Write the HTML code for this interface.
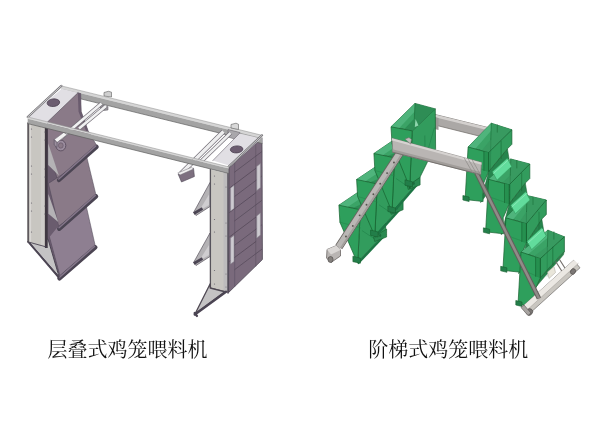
<!DOCTYPE html>
<html><head><meta charset="utf-8"><title>鸡笼喂料机</title>
<style>
html,body{margin:0;padding:0;background:#fff;}
body{width:600px;height:428px;position:relative;overflow:hidden;font-family:"Liberation Serif","Noto Serif CJK SC",serif;}
svg{position:absolute;left:0;top:0;}
.cap{position:absolute;top:335.5px;font-size:20px;line-height:28px;color:#111;white-space:nowrap;letter-spacing:0;filter:blur(0.35px);}
</style></head><body>
<svg width="600" height="428" viewBox="0 0 600 428">
<defs><filter id="bl" x="-5%" y="-5%" width="110%" height="110%"><feGaussianBlur stdDeviation="0.6"/></filter></defs>
<g filter="url(#bl)">
<polygon points="229.0,168.0 262.0,137.5 262.4,259.5 228.6,292.5" fill="#7a6b7c" stroke="#4b4452" stroke-width="0.8" stroke-linejoin="round"/>
<polyline points="234.7,163.0 234.7,286.5" fill="none" stroke="#5d4f61" stroke-width="0.6" stroke-linecap="round" stroke-linejoin="round"/>
<polyline points="255.8,143.5 255.8,266.0" fill="none" stroke="#5d4f61" stroke-width="0.6" stroke-linecap="round" stroke-linejoin="round"/>
<polyline points="234.7,172.0 261.6,151.8" fill="none" stroke="#554759" stroke-width="0.7" stroke-linecap="round" stroke-linejoin="round"/>
<polyline points="229.6,188.0 255.8,168.4" fill="none" stroke="#554759" stroke-width="0.8" stroke-linecap="round" stroke-linejoin="round"/>
<polyline points="234.7,196.4 261.6,176.2" fill="none" stroke="#554759" stroke-width="0.7" stroke-linecap="round" stroke-linejoin="round"/>
<polyline points="229.6,212.4 255.8,192.8" fill="none" stroke="#554759" stroke-width="0.8" stroke-linecap="round" stroke-linejoin="round"/>
<polyline points="234.7,220.8 261.6,200.6" fill="none" stroke="#554759" stroke-width="0.7" stroke-linecap="round" stroke-linejoin="round"/>
<polyline points="229.6,236.8 255.8,217.2" fill="none" stroke="#554759" stroke-width="0.8" stroke-linecap="round" stroke-linejoin="round"/>
<polyline points="234.7,245.2 261.6,225.0" fill="none" stroke="#554759" stroke-width="0.7" stroke-linecap="round" stroke-linejoin="round"/>
<polyline points="229.6,261.2 255.8,241.6" fill="none" stroke="#554759" stroke-width="0.8" stroke-linecap="round" stroke-linejoin="round"/>
<polyline points="234.7,269.6 261.6,249.4" fill="none" stroke="#554759" stroke-width="0.7" stroke-linecap="round" stroke-linejoin="round"/>
<polygon points="230.6,188.0 234.0,185.5 234.0,208.5 230.6,211.0" fill="#cdcad0" stroke="#8b8790" stroke-width="0.5" stroke-linejoin="round"/>
<polygon points="230.6,238.0 234.0,235.5 234.0,261.5 230.6,264.0" fill="#cdcad0" stroke="#8b8790" stroke-width="0.5" stroke-linejoin="round"/>
<polygon points="256.8,166.5 260.4,163.5 260.4,187.5 256.8,190.5" fill="#cdcad0" stroke="#8b8790" stroke-width="0.5" stroke-linejoin="round"/>
<polygon points="256.8,216.0 260.4,213.0 260.4,235.0 256.8,238.0" fill="#cdcad0" stroke="#8b8790" stroke-width="0.5" stroke-linejoin="round"/>
<polygon points="104.0,92.5 108.5,91.3 111.5,92.2 111.5,97.0 104.0,96.0" fill="#cfcfcf" stroke="#5e5e5e" stroke-width="0.6" stroke-linejoin="round"/>
<polygon points="61.4,85.9 262.0,135.3 262.0,137.9 61.4,88.5" fill="#d6d6d6"/>
<polygon points="61.4,88.5 262.0,137.9 262.0,143.5 61.4,94.1" fill="#a3a3a3"/>
<polyline points="61.4,85.9 262.0,135.3" fill="none" stroke="#8a8a8a" stroke-width="0.5" stroke-linecap="round" stroke-linejoin="round"/>
<polyline points="61.4,94.1 262.0,143.5" fill="none" stroke="#5e5e5e" stroke-width="0.7" stroke-linecap="round" stroke-linejoin="round"/>
<polygon points="100.0,104.5 108.0,106.5 108.0,110.0 104.0,110.5 100.0,108.0" fill="#9a979c" stroke="#5e5a62" stroke-width="0.5" stroke-linejoin="round"/>
<polygon points="231.0,124.5 236.0,123.2 238.5,124.3 238.5,129.5 231.0,128.0" fill="#d9d9d9" stroke="#5e5e5e" stroke-width="0.6" stroke-linejoin="round"/>
<polygon points="228.0,129.5 240.0,132.5 240.0,138.0 236.0,139.5 228.0,137.0" fill="#a9a7ab" stroke="#5e5a62" stroke-width="0.5" stroke-linejoin="round"/>
<polygon points="46.0,126.0 50.0,122.0 58.0,181.0 59.0,228.0 60.0,277.0 46.0,247.0" fill="#6a5b6e"/>
<polygon points="47.5,122.0 77.5,92.7 80.7,93.6 81.2,111.5 88.2,131.0 97.6,147.0 58.0,180.5 47.5,150.0" fill="#8a7a88" stroke="#4b4452" stroke-width="0.5" stroke-linejoin="round"/>
<polygon points="77.8,92.8 80.7,93.6 81.2,111.5 88.2,131.0 86.0,131.0 78.5,111.5" fill="#6a5b6e"/>
<polygon points="48.4,183.5 72.0,168.0 86.5,156.0 96.1,195.4 58.9,227.0" fill="#8a7a88" stroke="#4b4452" stroke-width="0.5" stroke-linejoin="round"/>
<polygon points="48.4,233.0 72.0,217.0 86.0,205.0 95.3,246.0 60.0,276.0" fill="#8e7f91" stroke="#4b4452" stroke-width="0.5" stroke-linejoin="round"/>
<polygon points="48.2,143.5 58.9,175.5 48.2,165.0" fill="#b4b2b5"/>
<polygon points="47.0,185.0 58.5,226.0 47.0,240.0" fill="#6a5b6e"/>
<polygon points="48.4,194.0 58.2,222.0 48.4,213.7" fill="#b4b2b5"/>
<polygon points="47.0,235.0 59.3,274.0 50.0,240.0" fill="#6a5b6e"/>
<polyline points="59.0,180.0 96.6,146.8" fill="none" stroke="#4b4452" stroke-width="4.3" stroke-linecap="round" stroke-linejoin="round"/>
<polyline points="58.8,179.0 95.8,145.9" fill="none" stroke="#84768a" stroke-width="1.5" stroke-linecap="round" stroke-linejoin="round"/>
<polyline points="59.2,228.8 96.1,196.3" fill="none" stroke="#4b4452" stroke-width="4.3" stroke-linecap="round" stroke-linejoin="round"/>
<polyline points="59.0,227.8 95.3,195.4" fill="none" stroke="#84768a" stroke-width="1.5" stroke-linecap="round" stroke-linejoin="round"/>
<polyline points="59.5,278.4 95.3,247.3" fill="none" stroke="#4b4452" stroke-width="4.3" stroke-linecap="round" stroke-linejoin="round"/>
<polyline points="59.3,277.4 94.5,246.4" fill="none" stroke="#84768a" stroke-width="1.5" stroke-linecap="round" stroke-linejoin="round"/>
<polygon points="28.5,241.5 48.0,239.0 59.0,276.5" fill="#c4c3c4" stroke="#4b4452" stroke-width="1.0" stroke-linejoin="round"/>
<polyline points="28.3,241.8 58.6,277.3" fill="none" stroke="#4b4452" stroke-width="1.8" stroke-linecap="round" stroke-linejoin="round"/>
<polygon points="27.7,123.0 46.5,127.5 46.5,247.0 27.7,241.8" fill="#c8c6c1"/>
<polyline points="28.2,123.0 28.2,241.8" fill="none" stroke="#5f5a5e" stroke-width="1.8" stroke-linecap="round" stroke-linejoin="round"/>
<polyline points="30.4,124.0 30.4,241.0" fill="none" stroke="#d9d7d4" stroke-width="1.4" stroke-linecap="round" stroke-linejoin="round"/>
<polyline points="42.5,127.0 42.5,246.0" fill="none" stroke="#cfcdca" stroke-width="3.0" stroke-linecap="round" stroke-linejoin="round"/>
<polyline points="46.3,127.0 46.3,248.0" fill="none" stroke="#3f3842" stroke-width="2.8" stroke-linecap="butt" stroke-linejoin="round"/>
<polyline points="27.7,241.8 46.5,247.0" fill="none" stroke="#4b4452" stroke-width="0.9" stroke-linecap="round" stroke-linejoin="round"/>
<ellipse cx="31.5" cy="129" rx="0.6" ry="0.6" fill="#6a6670"/>
<ellipse cx="31.5" cy="137" rx="0.6" ry="0.6" fill="#6a6670"/>
<ellipse cx="31.5" cy="166" rx="0.6" ry="0.6" fill="#6a6670"/>
<ellipse cx="31.5" cy="174" rx="0.6" ry="0.6" fill="#6a6670"/>
<ellipse cx="31.5" cy="203" rx="0.6" ry="0.6" fill="#6a6670"/>
<ellipse cx="31.5" cy="211" rx="0.6" ry="0.6" fill="#6a6670"/>
<ellipse cx="31.5" cy="232" rx="0.6" ry="0.6" fill="#6a6670"/>
<ellipse cx="44.8" cy="132" rx="0.5" ry="0.5" fill="#6a6670"/>
<ellipse cx="44.8" cy="140" rx="0.5" ry="0.5" fill="#6a6670"/>
<ellipse cx="44.8" cy="169" rx="0.5" ry="0.5" fill="#6a6670"/>
<ellipse cx="44.8" cy="177" rx="0.5" ry="0.5" fill="#6a6670"/>
<ellipse cx="44.8" cy="206" rx="0.5" ry="0.5" fill="#6a6670"/>
<ellipse cx="44.8" cy="214" rx="0.5" ry="0.5" fill="#6a6670"/>
<polyline points="101.5,103.5 57.5,141.0" fill="none" stroke="#6f6a73" stroke-width="4.0" stroke-linecap="butt" stroke-linejoin="round"/>
<polyline points="101.5,103.5 57.5,141.0" fill="none" stroke="#f1f1f2" stroke-width="2.7" stroke-linecap="butt" stroke-linejoin="round"/>
<polyline points="106.0,106.0 79.0,128.5" fill="none" stroke="#6f6a73" stroke-width="4.0" stroke-linecap="butt" stroke-linejoin="round"/>
<polyline points="106.0,106.0 79.0,128.5" fill="none" stroke="#f1f1f2" stroke-width="2.7" stroke-linecap="butt" stroke-linejoin="round"/>
<ellipse cx="60.8" cy="145.5" rx="5.0" ry="5.4" fill="#9a8c9d" stroke="#5a4d5e" stroke-width="0.9"/>
<ellipse cx="60.8" cy="145.5" rx="2.4" ry="2.7" fill="#8a7a88" stroke="#5a4d5e" stroke-width="0.5"/>
<polygon points="54.2,139.6 64.0,132.2 66.8,134.8 57.0,142.6" fill="#f3f3f3" stroke="#6f6a73" stroke-width="0.6" stroke-linejoin="round"/>
<polygon points="54.2,139.6 57.0,142.6 57.0,147.5 54.2,145.0" fill="#9b8e9e" stroke="#4b4452" stroke-width="0.5" stroke-linejoin="round"/>
<polygon points="210.2,169.5 227.3,173.5 227.3,292.0 210.2,288.0" fill="#c8c6c1"/>
<polygon points="223.5,172.5 227.3,173.5 227.3,292.0 223.5,291.0" fill="#bdbcbd"/>
<polyline points="210.4,169.5 210.4,288.0" fill="none" stroke="#57525a" stroke-width="1.3" stroke-linecap="round" stroke-linejoin="round"/>
<polyline points="228.0,169.0 228.0,293.0" fill="none" stroke="#4b4452" stroke-width="1.5" stroke-linecap="round" stroke-linejoin="round"/>
<polyline points="210.2,288.0 227.3,292.0" fill="none" stroke="#4b4452" stroke-width="0.9" stroke-linecap="round" stroke-linejoin="round"/>
<ellipse cx="214.5" cy="176" rx="0.6" ry="0.6" fill="#6a6670"/>
<ellipse cx="214.5" cy="184" rx="0.6" ry="0.6" fill="#6a6670"/>
<ellipse cx="214.5" cy="219.5" rx="0.6" ry="0.6" fill="#6a6670"/>
<ellipse cx="214.5" cy="232" rx="0.6" ry="0.6" fill="#6a6670"/>
<ellipse cx="214.5" cy="270.5" rx="0.6" ry="0.6" fill="#6a6670"/>
<ellipse cx="214.5" cy="284" rx="0.6" ry="0.6" fill="#6a6670"/>
<ellipse cx="226" cy="187" rx="0.5" ry="0.5" fill="#6a6670"/>
<ellipse cx="226" cy="223" rx="0.5" ry="0.5" fill="#6a6670"/>
<ellipse cx="226" cy="236" rx="0.5" ry="0.5" fill="#6a6670"/>
<ellipse cx="226" cy="274" rx="0.5" ry="0.5" fill="#6a6670"/>
<ellipse cx="226" cy="287" rx="0.5" ry="0.5" fill="#6a6670"/>
<polygon points="210.0,182.5 210.0,206.5 196.0,215.5 193.6,212.5" fill="#b4b2b5" stroke="#5a545e" stroke-width="0.7" stroke-linejoin="round"/>
<polygon points="209.0,194.5 209.0,205.0 199.0,211.0" fill="#cfcdd0"/>
<polyline points="193.8,213.5 202.5,208.5" fill="none" stroke="#4b4452" stroke-width="2.6" stroke-linecap="butt" stroke-linejoin="round"/>
<polygon points="210.0,233.0 210.0,256.5 196.0,265.5 193.6,262.5" fill="#b4b2b5" stroke="#5a545e" stroke-width="0.7" stroke-linejoin="round"/>
<polygon points="209.0,245.0 209.0,255.0 199.0,261.0" fill="#cfcdd0"/>
<polyline points="193.8,263.5 202.5,258.5" fill="none" stroke="#4b4452" stroke-width="2.6" stroke-linecap="butt" stroke-linejoin="round"/>
<polygon points="210.2,283.8 210.2,288.0 225.0,291.8 195.0,314.0" fill="#c4c3c4" stroke="#4f4953" stroke-width="1.3" stroke-linejoin="round"/>
<polyline points="194.8,314.5 226.0,291.8" fill="none" stroke="#4b4452" stroke-width="2.5" stroke-linecap="round" stroke-linejoin="round"/>
<polyline points="194.6,313.0 197.0,316.0" fill="none" stroke="#4b4452" stroke-width="2.2" stroke-linecap="round" stroke-linejoin="round"/>
<polygon points="27.7,117.0 61.9,88.7 78.0,92.8 47.5,122.0" fill="#e1dfe4"/>
<polyline points="78.0,92.8 47.5,122.0" fill="none" stroke="#5e5662" stroke-width="0.7" stroke-linecap="round" stroke-linejoin="round"/>
<ellipse cx="53.4" cy="102.7" rx="6.3" ry="3.8" fill="#6c5d70" stroke="#4d4252" stroke-width="0.8" transform="rotate(-6 53.4 102.7)"/>
<polygon points="212.8,160.6 239.5,133.4 261.0,138.6 230.5,166.0" fill="#e1dfe4"/>
<polyline points="239.5,133.4 212.8,160.6" fill="none" stroke="#6b6570" stroke-width="0.6" stroke-linecap="round" stroke-linejoin="round"/>
<ellipse cx="236.6" cy="149.4" rx="6.3" ry="3.5" fill="#6c5d70" stroke="#4d4252" stroke-width="0.8" transform="rotate(-4 236.6 149.4)"/>
<polyline points="223.5,131.5 181.0,173.5" fill="none" stroke="#6f6a73" stroke-width="4.7" stroke-linecap="butt" stroke-linejoin="round"/>
<polyline points="223.5,131.5 181.0,173.5" fill="none" stroke="#eeeeef" stroke-width="3.4" stroke-linecap="butt" stroke-linejoin="round"/>
<polyline points="230.5,133.0 199.0,163.5" fill="none" stroke="#6f6a73" stroke-width="3.9000000000000004" stroke-linecap="butt" stroke-linejoin="round"/>
<polyline points="230.5,133.0 199.0,163.5" fill="none" stroke="#eeeeef" stroke-width="2.6" stroke-linecap="butt" stroke-linejoin="round"/>
<polygon points="178.2,174.2 193.5,168.2 194.4,176.5 181.5,182.0" fill="#7d7080" stroke="#4b4452" stroke-width="0.6" stroke-linejoin="round"/>
<polygon points="177.8,173.0 191.5,167.3 193.6,169.0 180.0,175.0" fill="#f0f0f0" stroke="#6f6a73" stroke-width="0.5" stroke-linejoin="round"/>
<polyline points="27.7,117.0 61.4,85.9" fill="none" stroke="#77757a" stroke-width="2.2" stroke-linecap="round" stroke-linejoin="round"/>
<polyline points="27.7,117.0 61.4,85.9" fill="none" stroke="#d8d8d8" stroke-width="0.9" stroke-linecap="round" stroke-linejoin="round"/>
<polyline points="228.5,166.8 262.0,135.3" fill="none" stroke="#77757a" stroke-width="2.2" stroke-linecap="round" stroke-linejoin="round"/>
<polyline points="228.5,166.8 262.0,135.3" fill="none" stroke="#d0d0d0" stroke-width="0.9" stroke-linecap="round" stroke-linejoin="round"/>
<polygon points="27.7,117.0 228.5,166.8 228.5,168.6 27.7,118.8" fill="#d6d6d6"/>
<polygon points="27.7,118.8 228.5,168.6 228.5,173.4 27.7,123.6" fill="#a3a3a3"/>
<polyline points="27.7,117.0 228.5,166.8" fill="none" stroke="#8a8a8a" stroke-width="0.5" stroke-linecap="round" stroke-linejoin="round"/>
<polyline points="27.7,123.6 228.5,173.4" fill="none" stroke="#5e5e5e" stroke-width="0.7" stroke-linecap="round" stroke-linejoin="round"/>
</g>
<g filter="url(#bl)">
<polygon points="435.0,114.5 491.0,128.3 491.0,139.0 435.0,125.0" fill="#aba8a6" stroke="#76726f" stroke-width="0.8" stroke-linejoin="round"/>
<polygon points="435.0,114.5 491.0,128.3 491.0,131.0 435.0,117.2" fill="#d3d0ce"/>
<polygon points="434.5,117.0 438.5,118.0 438.5,130.0 434.5,129.0" fill="#9c9896"/>
<polygon points="360.3,209.8 385.0,187.3 385.7,232.5 357.8,262.0" fill="#319c5d" stroke="#17602f" stroke-width="0.7" stroke-linejoin="round"/>
<polyline points="373.6,214.6 374.1,238.6" fill="none" stroke="#1f7a45" stroke-width="0.6" stroke-linecap="round" stroke-linejoin="round"/>
<polyline points="362.3,230.8 374.1,238.6" fill="none" stroke="#1f7a45" stroke-width="0.5" stroke-linecap="round" stroke-linejoin="round"/>
<polyline points="384.0,206.3 374.1,238.6" fill="none" stroke="#1f7a45" stroke-width="0.5" stroke-linecap="round" stroke-linejoin="round"/>
<polyline points="357.8,263.5 385.7,234.0" fill="none" stroke="#1f7544" stroke-width="2.4" stroke-linecap="butt" stroke-linejoin="round"/>
<polygon points="373.7,237.0 386.6,229.0 386.6,237.0 374.7,241.5" fill="#2a8a51" stroke="#17602f" stroke-width="0.6" stroke-linejoin="round"/>
<ellipse cx="380.2" cy="235.5" rx="1.1" ry="1.4" fill="#1d6a3d"/>
<polygon points="338.9,205.2 364.0,188.2 385.0,187.3 360.3,209.8" fill="#3aa366" stroke="#17602f" stroke-width="0.7" stroke-linejoin="round"/>
<polygon points="338.9,205.2 364.0,188.2 363.7,196.2 345.4,208.4" fill="#4fb47c"/>
<polygon points="364.0,188.2 385.0,187.3 360.3,209.8 352.3,208.2 363.3,203.2" fill="#2d8d55"/>
<polyline points="364.0,188.2 363.3,203.2" fill="none" stroke="#17602f" stroke-width="0.5" stroke-linecap="round" stroke-linejoin="round"/>
<polygon points="338.9,205.2 360.3,209.8 357.8,262.0 355.4,258.2 339.9,222.2" fill="#2f9f5b" stroke="#17602f" stroke-width="0.7" stroke-linejoin="round"/>
<polyline points="339.9,222.2 360.3,227.8" fill="none" stroke="#25804b" stroke-width="0.5" stroke-linecap="round" stroke-linejoin="round"/>
<polygon points="352.9,256.2 360.4,258.2 360.4,263.2 352.9,261.7" fill="#247e4a" stroke="#17602f" stroke-width="0.6" stroke-linejoin="round"/>
<polygon points="377.3,184.0 401.5,161.5 402.2,205.3 374.8,235.5" fill="#319c5d" stroke="#17602f" stroke-width="0.7" stroke-linejoin="round"/>
<polyline points="390.4,188.8 390.9,212.8" fill="none" stroke="#1f7a45" stroke-width="0.6" stroke-linecap="round" stroke-linejoin="round"/>
<polyline points="379.3,205.0 390.9,212.8" fill="none" stroke="#1f7a45" stroke-width="0.5" stroke-linecap="round" stroke-linejoin="round"/>
<polyline points="400.5,180.5 390.9,212.8" fill="none" stroke="#1f7a45" stroke-width="0.5" stroke-linecap="round" stroke-linejoin="round"/>
<polyline points="374.8,237.0 402.2,206.8" fill="none" stroke="#1f7544" stroke-width="2.4" stroke-linecap="butt" stroke-linejoin="round"/>
<polygon points="390.2,209.8 403.1,201.8 403.1,209.8 391.2,214.3" fill="#2a8a51" stroke="#17602f" stroke-width="0.6" stroke-linejoin="round"/>
<ellipse cx="396.7" cy="208.3" rx="1.1" ry="1.4" fill="#1d6a3d"/>
<polygon points="356.6,179.5 380.8,163.3 401.5,161.5 377.3,184.0" fill="#3aa366" stroke="#17602f" stroke-width="0.7" stroke-linejoin="round"/>
<polygon points="356.6,179.5 380.8,163.3 380.5,171.3 363.1,182.7" fill="#4fb47c"/>
<polygon points="380.8,163.3 401.5,161.5 377.3,184.0 369.3,182.4 380.1,178.3" fill="#2d8d55"/>
<polyline points="380.8,163.3 380.1,178.3" fill="none" stroke="#17602f" stroke-width="0.5" stroke-linecap="round" stroke-linejoin="round"/>
<polygon points="356.6,179.5 377.3,184.0 374.8,235.5 373.1,232.0 357.6,196.5" fill="#2f9f5b" stroke="#17602f" stroke-width="0.7" stroke-linejoin="round"/>
<polyline points="357.6,196.5 377.3,202.0" fill="none" stroke="#25804b" stroke-width="0.5" stroke-linecap="round" stroke-linejoin="round"/>
<polygon points="370.6,230.0 378.1,232.0 378.1,237.0 370.6,235.5" fill="#247e4a" stroke="#17602f" stroke-width="0.6" stroke-linejoin="round"/>
<polygon points="394.5,157.8 418.5,135.5 419.2,180.5 392.0,212.0" fill="#319c5d" stroke="#17602f" stroke-width="0.7" stroke-linejoin="round"/>
<polyline points="407.5,162.7 408.0,186.7" fill="none" stroke="#1f7a45" stroke-width="0.6" stroke-linecap="round" stroke-linejoin="round"/>
<polyline points="396.5,178.8 408.0,186.7" fill="none" stroke="#1f7a45" stroke-width="0.5" stroke-linecap="round" stroke-linejoin="round"/>
<polyline points="417.5,154.5 408.0,186.7" fill="none" stroke="#1f7a45" stroke-width="0.5" stroke-linecap="round" stroke-linejoin="round"/>
<polyline points="392.0,213.5 419.2,182.0" fill="none" stroke="#1f7544" stroke-width="2.4" stroke-linecap="butt" stroke-linejoin="round"/>
<polygon points="407.2,185.0 420.1,177.0 420.1,185.0 408.2,189.5" fill="#2a8a51" stroke="#17602f" stroke-width="0.6" stroke-linejoin="round"/>
<ellipse cx="413.7" cy="183.5" rx="1.1" ry="1.4" fill="#1d6a3d"/>
<polygon points="373.9,153.5 397.5,137.4 418.5,135.5 394.5,157.8" fill="#3aa366" stroke="#17602f" stroke-width="0.7" stroke-linejoin="round"/>
<polygon points="373.9,153.5 397.5,137.4 397.2,145.4 380.4,156.7" fill="#4fb47c"/>
<polygon points="397.5,137.4 418.5,135.5 394.5,157.8 386.5,156.2 396.8,152.4" fill="#2d8d55"/>
<polyline points="397.5,137.4 396.8,152.4" fill="none" stroke="#17602f" stroke-width="0.5" stroke-linecap="round" stroke-linejoin="round"/>
<polygon points="373.9,153.5 394.5,157.8 392.0,212.0 390.4,208.0 374.9,170.5" fill="#2f9f5b" stroke="#17602f" stroke-width="0.7" stroke-linejoin="round"/>
<polyline points="374.9,170.5 394.5,175.8" fill="none" stroke="#25804b" stroke-width="0.5" stroke-linecap="round" stroke-linejoin="round"/>
<polygon points="387.9,206.0 395.4,208.0 395.4,213.0 387.9,211.5" fill="#247e4a" stroke="#17602f" stroke-width="0.6" stroke-linejoin="round"/>
<polygon points="412.2,130.9 435.3,108.9 435.6,148.9 427.3,162.3 419.8,177.5 412.5,182.5 409.7,188.4" fill="#319c5d" stroke="#17602f" stroke-width="0.7" stroke-linejoin="round"/>
<polyline points="424.8,135.9 425.2,159.9" fill="none" stroke="#1f7a45" stroke-width="0.6" stroke-linecap="round" stroke-linejoin="round"/>
<polyline points="414.2,151.9 425.2,159.9" fill="none" stroke="#1f7a45" stroke-width="0.5" stroke-linecap="round" stroke-linejoin="round"/>
<polyline points="434.3,127.9 425.2,159.9" fill="none" stroke="#1f7a45" stroke-width="0.5" stroke-linecap="round" stroke-linejoin="round"/>
<polygon points="391.0,126.8 415.0,103.4 435.3,108.9 412.2,130.9" fill="#3aa366" stroke="#17602f" stroke-width="0.7" stroke-linejoin="round"/>
<polygon points="391.0,126.8 415.0,103.4 414.7,111.4 397.5,130.0" fill="#4fb47c"/>
<polygon points="415.0,103.4 435.3,108.9 412.2,130.9 404.2,129.3 414.3,118.4" fill="#2d8d55"/>
<polyline points="415.0,103.4 414.3,118.4" fill="none" stroke="#17602f" stroke-width="0.5" stroke-linecap="round" stroke-linejoin="round"/>
<polygon points="391.0,126.8 412.2,130.9 409.7,188.4 407.5,181.8 392.0,143.8" fill="#2f9f5b" stroke="#17602f" stroke-width="0.7" stroke-linejoin="round"/>
<polyline points="392.0,143.8 412.2,148.9" fill="none" stroke="#25804b" stroke-width="0.5" stroke-linecap="round" stroke-linejoin="round"/>
<polygon points="405.0,179.8 412.5,181.8 412.5,186.8 405.0,185.3" fill="#247e4a" stroke="#17602f" stroke-width="0.6" stroke-linejoin="round"/>
<polygon points="415.5,119.0 418.5,125.5 414.8,127.0" fill="#8fd6ad"/>
<polygon points="488.6,171.6 507.4,148.8 509.9,163.8 480.6,202.6" fill="#27844d" stroke="#17602f" stroke-width="0.5" stroke-linejoin="round"/>
<polygon points="468.1,147.0 491.3,123.2 511.9,129.8 488.6,152.6" fill="#3aa366" stroke="#17602f" stroke-width="0.7" stroke-linejoin="round"/>
<polygon points="468.1,147.0 491.3,123.2 491.0,130.7 474.1,150.2" fill="#4fb47c"/>
<polygon points="491.3,123.2 511.9,129.8 488.6,152.6 481.6,150.7 490.8,139.2" fill="#379a60"/>
<polyline points="491.3,123.2 490.8,139.2" fill="none" stroke="#17602f" stroke-width="0.5" stroke-linecap="round" stroke-linejoin="round"/>
<polyline points="497.3,124.7 497.3,132.2" fill="none" stroke="#17602f" stroke-width="0.5" stroke-linecap="round" stroke-linejoin="round"/>
<polygon points="488.6,152.6 511.9,129.8 511.9,144.3 507.4,148.8 488.6,171.6" fill="#319c5d" stroke="#17602f" stroke-width="0.7" stroke-linejoin="round"/>
<polyline points="501.1,141.1 501.1,158.6" fill="none" stroke="#17602f" stroke-width="0.5" stroke-linecap="round" stroke-linejoin="round"/>
<polygon points="468.1,147.0 488.6,152.6 488.6,171.6 482.6,185.6 483.1,201.5 465.1,199.5" fill="#2f9f5b" stroke="#17602f" stroke-width="0.7" stroke-linejoin="round"/>
<polyline points="467.3,164.0 488.6,171.6" fill="none" stroke="#25804b" stroke-width="0.5" stroke-linecap="round" stroke-linejoin="round"/>
<polygon points="483.9,151.4 488.6,152.6 488.6,171.6 483.9,170.4" fill="#259050"/>
<polyline points="483.9,151.4 483.9,170.4" fill="none" stroke="#17602f" stroke-width="0.6" stroke-linecap="round" stroke-linejoin="round"/>
<polyline points="488.6,152.6 488.6,171.6" fill="none" stroke="#17602f" stroke-width="0.7" stroke-linecap="round" stroke-linejoin="round"/>
<polyline points="490.8,139.2 490.5,169.2" fill="none" stroke="#17602f" stroke-width="0.5" stroke-linecap="round" stroke-linejoin="round" opacity="0.55"/>
<polygon points="462.9,195.5 469.1,197.0 469.1,201.5 462.9,200.0" fill="#247e4a" stroke="#17602f" stroke-width="0.6" stroke-linejoin="round"/>
<polygon points="509.2,203.8 525.3,183.0 527.8,198.0 501.2,234.8" fill="#27844d" stroke="#17602f" stroke-width="0.5" stroke-linejoin="round"/>
<polygon points="488.6,179.3 510.8,159.0 529.8,164.0 509.2,184.8" fill="#3aa366" stroke="#17602f" stroke-width="0.7" stroke-linejoin="round"/>
<polygon points="488.6,179.3 510.8,159.0 510.5,166.5 494.6,182.5" fill="#4fb47c"/>
<polygon points="510.8,159.0 529.8,164.0 509.2,184.8 502.2,182.9 510.3,175.0" fill="#379a60"/>
<polyline points="510.8,159.0 510.3,175.0" fill="none" stroke="#17602f" stroke-width="0.5" stroke-linecap="round" stroke-linejoin="round"/>
<polyline points="516.8,160.5 516.8,168.0" fill="none" stroke="#17602f" stroke-width="0.5" stroke-linecap="round" stroke-linejoin="round"/>
<polygon points="509.2,184.8 529.8,164.0 529.8,178.5 525.3,183.0 509.2,203.8" fill="#319c5d" stroke="#17602f" stroke-width="0.7" stroke-linejoin="round"/>
<polyline points="521.7,173.3 521.7,190.8" fill="none" stroke="#17602f" stroke-width="0.5" stroke-linecap="round" stroke-linejoin="round"/>
<polygon points="488.6,179.3 509.2,184.8 509.2,203.8 503.2,217.8 503.6,233.8 485.6,231.8" fill="#2f9f5b" stroke="#17602f" stroke-width="0.7" stroke-linejoin="round"/>
<polyline points="487.8,196.3 509.2,203.8" fill="none" stroke="#25804b" stroke-width="0.5" stroke-linecap="round" stroke-linejoin="round"/>
<polygon points="504.5,183.6 509.2,184.8 509.2,203.8 504.5,202.6" fill="#259050"/>
<polyline points="504.5,183.6 504.5,202.6" fill="none" stroke="#17602f" stroke-width="0.6" stroke-linecap="round" stroke-linejoin="round"/>
<polyline points="509.2,184.8 509.2,203.8" fill="none" stroke="#17602f" stroke-width="0.7" stroke-linecap="round" stroke-linejoin="round"/>
<polyline points="510.3,175.0 510.0,205.0" fill="none" stroke="#17602f" stroke-width="0.5" stroke-linecap="round" stroke-linejoin="round" opacity="0.55"/>
<polygon points="483.4,227.8 489.6,229.3 489.6,233.8 483.4,232.3" fill="#247e4a" stroke="#17602f" stroke-width="0.6" stroke-linejoin="round"/>
<polygon points="526.5,242.7 541.8,219.0 544.3,234.0 518.5,273.7" fill="#27844d" stroke="#17602f" stroke-width="0.5" stroke-linejoin="round"/>
<polygon points="505.9,217.8 527.0,195.5 546.3,200.0 526.5,223.7" fill="#3aa366" stroke="#17602f" stroke-width="0.7" stroke-linejoin="round"/>
<polygon points="505.9,217.8 527.0,195.5 526.7,203.0 511.9,221.0" fill="#4fb47c"/>
<polygon points="527.0,195.5 546.3,200.0 526.5,223.7 519.5,221.8 526.5,211.5" fill="#379a60"/>
<polyline points="527.0,195.5 526.5,211.5" fill="none" stroke="#17602f" stroke-width="0.5" stroke-linecap="round" stroke-linejoin="round"/>
<polyline points="533.0,197.0 533.0,204.5" fill="none" stroke="#17602f" stroke-width="0.5" stroke-linecap="round" stroke-linejoin="round"/>
<polygon points="526.5,223.7 546.3,200.0 546.3,214.5 541.8,219.0 526.5,242.7" fill="#319c5d" stroke="#17602f" stroke-width="0.7" stroke-linejoin="round"/>
<polyline points="539.0,212.2 539.0,229.7" fill="none" stroke="#17602f" stroke-width="0.5" stroke-linecap="round" stroke-linejoin="round"/>
<polygon points="505.9,217.8 526.5,223.7 526.5,242.7 520.5,256.7 520.9,272.3 502.9,270.3" fill="#2f9f5b" stroke="#17602f" stroke-width="0.7" stroke-linejoin="round"/>
<polyline points="505.1,234.8 526.5,242.7" fill="none" stroke="#25804b" stroke-width="0.5" stroke-linecap="round" stroke-linejoin="round"/>
<polygon points="521.8,222.5 526.5,223.7 526.5,242.7 521.8,241.5" fill="#259050"/>
<polyline points="521.8,222.5 521.8,241.5" fill="none" stroke="#17602f" stroke-width="0.6" stroke-linecap="round" stroke-linejoin="round"/>
<polyline points="526.5,223.7 526.5,242.7" fill="none" stroke="#17602f" stroke-width="0.7" stroke-linecap="round" stroke-linejoin="round"/>
<polyline points="526.5,211.5 526.2,241.5" fill="none" stroke="#17602f" stroke-width="0.5" stroke-linecap="round" stroke-linejoin="round" opacity="0.55"/>
<polygon points="500.7,266.3 506.9,267.8 506.9,272.3 500.7,270.8" fill="#247e4a" stroke="#17602f" stroke-width="0.6" stroke-linejoin="round"/>
<polygon points="540.3,277.6 564.4,251.3 563.4,254.8 536.3,286.6" fill="#27844d" stroke="#17602f" stroke-width="0.5" stroke-linejoin="round"/>
<polygon points="521.0,252.0 547.9,230.2 564.4,236.8 540.3,258.6" fill="#3aa366" stroke="#17602f" stroke-width="0.7" stroke-linejoin="round"/>
<polygon points="521.0,252.0 547.9,230.2 547.6,237.7 527.0,255.2" fill="#4fb47c"/>
<polygon points="547.9,230.2 564.4,236.8 540.3,258.6 533.3,256.7 547.4,246.2" fill="#379a60"/>
<polyline points="547.9,230.2 547.4,246.2" fill="none" stroke="#17602f" stroke-width="0.5" stroke-linecap="round" stroke-linejoin="round"/>
<polyline points="553.9,231.7 553.9,239.2" fill="none" stroke="#17602f" stroke-width="0.5" stroke-linecap="round" stroke-linejoin="round"/>
<polygon points="540.3,258.6 564.4,236.8 564.4,251.3 559.9,255.8 540.3,277.6" fill="#319c5d" stroke="#17602f" stroke-width="0.7" stroke-linejoin="round"/>
<polyline points="552.8,247.1 552.8,264.6" fill="none" stroke="#17602f" stroke-width="0.5" stroke-linecap="round" stroke-linejoin="round"/>
<polygon points="521.0,252.0 540.3,258.6 540.3,277.6 534.3,291.6 536.0,306.5 518.0,304.5" fill="#2f9f5b" stroke="#17602f" stroke-width="0.7" stroke-linejoin="round"/>
<polyline points="520.2,269.0 540.3,277.6" fill="none" stroke="#25804b" stroke-width="0.5" stroke-linecap="round" stroke-linejoin="round"/>
<polygon points="535.6,257.4 540.3,258.6 540.3,277.6 535.6,276.4" fill="#259050"/>
<polyline points="535.6,257.4 535.6,276.4" fill="none" stroke="#17602f" stroke-width="0.6" stroke-linecap="round" stroke-linejoin="round"/>
<polyline points="540.3,258.6 540.3,277.6" fill="none" stroke="#17602f" stroke-width="0.7" stroke-linecap="round" stroke-linejoin="round"/>
<polyline points="547.4,246.2 547.1,276.2" fill="none" stroke="#17602f" stroke-width="0.5" stroke-linecap="round" stroke-linejoin="round" opacity="0.55"/>
<polygon points="515.8,300.5 522.0,302.0 522.0,306.5 515.8,305.0" fill="#247e4a" stroke="#17602f" stroke-width="0.6" stroke-linejoin="round"/>
<polygon points="492.4,171.7 507.3,158.2 511.6,166.4 497.0,180.2" fill="#62dc9c" stroke="#2f9a5a" stroke-width="0.6" stroke-linejoin="round"/>
<polyline points="493.6,173.3 508.2,160.1" fill="none" stroke="#8beab8" stroke-width="0.9" stroke-linecap="round" stroke-linejoin="round"/>
<polygon points="510.8,205.2 525.7,191.7 530.0,199.9 515.4,213.7" fill="#62dc9c" stroke="#2f9a5a" stroke-width="0.6" stroke-linejoin="round"/>
<polyline points="512.0,206.8 526.6,193.6" fill="none" stroke="#8beab8" stroke-width="0.9" stroke-linecap="round" stroke-linejoin="round"/>
<polygon points="527.0,241.2 541.9,227.7 546.2,235.9 531.6,249.7" fill="#62dc9c" stroke="#2f9a5a" stroke-width="0.6" stroke-linejoin="round"/>
<polyline points="528.2,242.8 542.8,229.6" fill="none" stroke="#8beab8" stroke-width="0.9" stroke-linecap="round" stroke-linejoin="round"/>
<polygon points="547.5,272.0 554.0,266.5 555.5,272.5 549.0,278.5" fill="#e9e6da" stroke="#a9a59c" stroke-width="0.5" stroke-linejoin="round"/>
<polyline points="556.0,262.0 563.0,273.0" fill="none" stroke="#77736f" stroke-width="1.2" stroke-linecap="round" stroke-linejoin="round"/>
<polyline points="559.5,259.5 566.5,270.5" fill="none" stroke="#77736f" stroke-width="1.2" stroke-linecap="round" stroke-linejoin="round"/>
<polygon points="523.1,306.1 573.6,260.3 580.0,267.8 530.6,312.6" fill="#c9c6c0" stroke="#6f6b68" stroke-width="0.7" stroke-linejoin="round"/>
<polygon points="523.1,306.1 573.6,260.3 578.2,263.5 527.8,309.4" fill="#ebe8e3"/>
<polyline points="527.8,309.4 578.2,263.5" fill="none" stroke="#9a9691" stroke-width="0.5" stroke-linecap="round" stroke-linejoin="round"/>
<ellipse cx="573" cy="271.5" rx="2.4" ry="3.0" fill="#7c7876" stroke="#4a4644" stroke-width="0.6" transform="rotate(35 573 271.5)"/>
<ellipse cx="529.5" cy="312" rx="3.0" ry="3.4" fill="#7c7876" stroke="#4a4644" stroke-width="0.6" transform="rotate(35 529.5 312)"/>
<polygon points="521.0,307.5 524.0,305.0 531.0,313.0 528.0,315.5" fill="#a8a4a1" stroke="#55514f" stroke-width="0.6" stroke-linejoin="round"/>
<polyline points="476.5,173.0 539.0,298.5" fill="none" stroke="#625e5b" stroke-width="4.6" stroke-linecap="butt" stroke-linejoin="round"/>
<polyline points="476.5,173.0 539.0,298.5" fill="none" stroke="#908b88" stroke-width="2.6" stroke-linecap="butt" stroke-linejoin="round"/>
<polyline points="400.5,152.0 338.8,247.0" fill="none" stroke="#67635f" stroke-width="8.0" stroke-linecap="butt" stroke-linejoin="round"/>
<polyline points="400.5,152.0 338.8,247.0" fill="none" stroke="#bab7b5" stroke-width="6.4" stroke-linecap="butt" stroke-linejoin="round"/>
<polyline points="402.4,153.2 340.7,248.2" fill="none" stroke="#a29e9b" stroke-width="1.6" stroke-linecap="butt" stroke-linejoin="round"/>
<ellipse cx="393.94444444444446" cy="162.55555555555554" rx="0.95" ry="0.95" fill="#57534f"/>
<ellipse cx="387.0888888888889" cy="173.11111111111111" rx="0.95" ry="0.95" fill="#57534f"/>
<ellipse cx="380.23333333333335" cy="183.66666666666666" rx="0.95" ry="0.95" fill="#57534f"/>
<ellipse cx="373.3777777777778" cy="194.22222222222223" rx="0.95" ry="0.95" fill="#57534f"/>
<ellipse cx="366.52222222222224" cy="204.77777777777777" rx="0.95" ry="0.95" fill="#57534f"/>
<ellipse cx="359.6666666666667" cy="215.33333333333331" rx="0.95" ry="0.95" fill="#57534f"/>
<ellipse cx="352.81111111111113" cy="225.88888888888889" rx="0.95" ry="0.95" fill="#57534f"/>
<ellipse cx="345.9555555555556" cy="236.44444444444446" rx="0.95" ry="0.95" fill="#57534f"/>
<polygon points="327.0,249.5 336.5,245.5 340.5,250.0 340.5,256.0 331.0,262.5 326.5,258.0" fill="#b9b5b3" stroke="#5d5956" stroke-width="0.7" stroke-linejoin="round"/>
<polygon points="327.0,249.5 336.5,245.5 340.5,250.0 331.0,254.5" fill="#dad7d5"/>
<ellipse cx="330.5" cy="259.5" rx="2.6" ry="3.0" fill="#85817e" stroke="#4c4846" stroke-width="0.6"/>
<polygon points="392.0,138.2 481.5,162.4 480.7,174.6 392.8,152.2" fill="#b9b5b3" stroke="#7f7b78" stroke-width="0.7" stroke-linejoin="round"/>
<polygon points="392.0,138.2 481.5,162.4 481.5,164.8 392.0,140.6" fill="#d6d3d1"/>
<polygon points="392.5,149.2 480.9,172.0 480.7,174.6 392.8,152.2" fill="#a19d9a"/>
<polyline points="392.8,152.2 480.7,174.6" fill="none" stroke="#726e6b" stroke-width="0.9" stroke-linecap="round" stroke-linejoin="round"/>
<polygon points="405.0,139.0 409.0,137.6 411.5,139.5 410.5,144.0" fill="#c0bdbb" stroke="#6b6764" stroke-width="0.5" stroke-linejoin="round"/>
<polyline points="464.5,158.5 472.5,172.5" fill="none" stroke="#8d8986" stroke-width="0.7" stroke-linecap="round" stroke-linejoin="round"/>
<polyline points="468.5,159.5 476.5,173.5" fill="none" stroke="#8d8986" stroke-width="0.7" stroke-linecap="round" stroke-linejoin="round"/>
<polyline points="472.5,160.5 480.0,173.8" fill="none" stroke="#8d8986" stroke-width="0.7" stroke-linecap="round" stroke-linejoin="round"/>
</g>
</svg>
<div class="cap" style="left:47.5px">层叠式鸡笼喂料机</div>
<div class="cap" style="left:368.2px">阶梯式鸡笼喂料机</div>
</body></html>
